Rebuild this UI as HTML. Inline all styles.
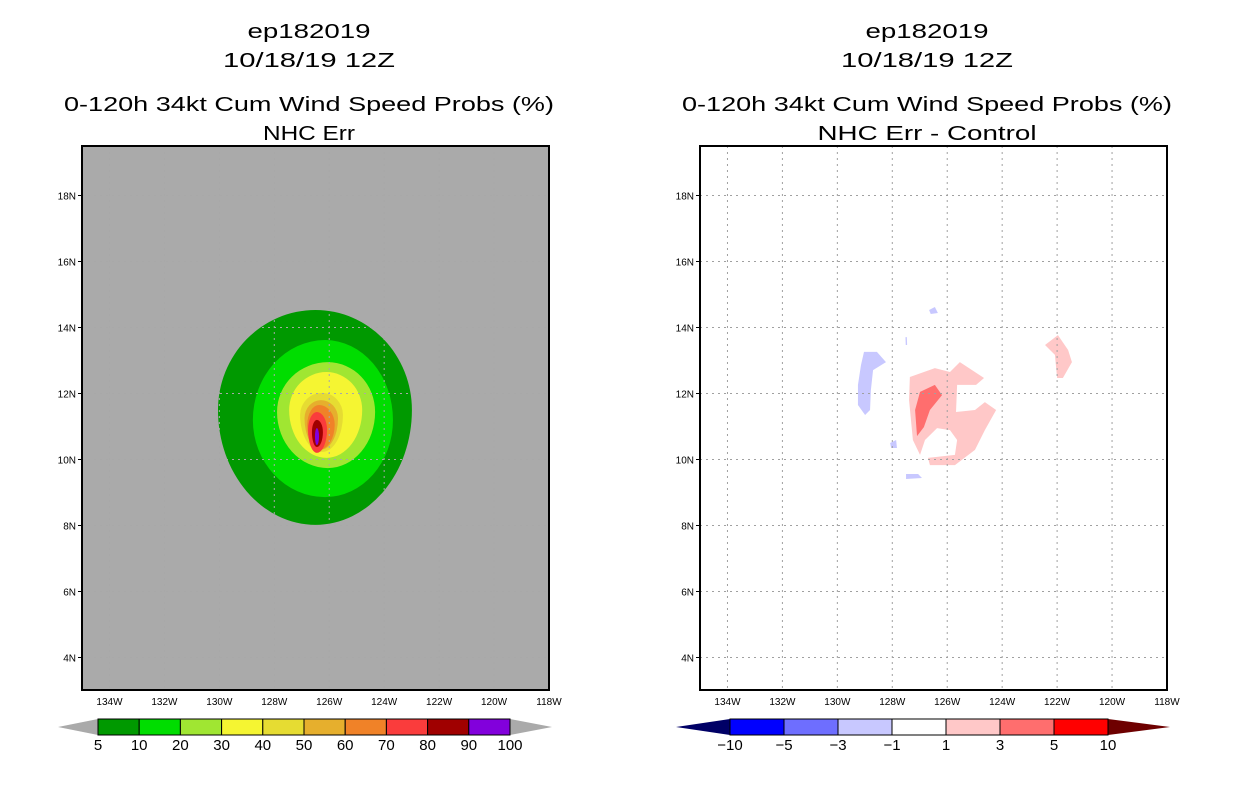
<!DOCTYPE html>
<html><head><meta charset="utf-8"><style>
html,body{margin:0;padding:0;background:#fff;}
svg text{font-family:"Liberation Sans",sans-serif;}
</style></head><body>
<svg id="chart" xmlns="http://www.w3.org/2000/svg" width="1236" height="800" viewBox="0 0 1236 800">
<rect width="1236" height="800" fill="#fff"/>
<g id="titles"></g>
<g id="left"></g>
<g id="right"></g>
</svg>
<script>
// ---- data ----
const lonTicks = [134,132,130,128,126,124,122,120,118];
const latTicks = [4,6,8,10,12,14,16,18];
const probLevels = [5,10,20,30,40,50,60,70,80,90];
const probColors = ["#009900","#00dd00","#a0e632","#f5f532","#e6dc32","#e6af2d","#f08228","#fa3c3c","#a00000","#8200dc"];
const probTop    = [14.53,13.62,12.95,12.65,12.02,11.8,11.65,11.44,11.2,10.95];
const probBottom = [8.02,8.86,9.74,10.05,10.23,10.3,10.3,10.2,10.38,10.44];
const probWest   = [130.05,128.78,127.9,127.46,127.06,126.9,126.8,126.77,126.63,126.52];
const probEast   = [122.99,123.68,124.33,124.8,125.5,125.68,125.8,126.08,126.23,126.37];
const probMid    = [11.5,11.2,11.44,11.5,11.35,11.25,11.05,10.9,10.83,10.7];
const probCx     = [126.5,126.15,126.05,126.1,126.26,126.3,126.37,126.45,126.45,126.45];
const diffLabels = ["-10","-5","-3","-1","1","3","5","10"];
const diffColors = ["#0000ff","#6e6eff","#c8c8ff","#ffffff","#ffc8c8","#ff6e6e","#ff0000"];
const diffPinkBig = [[127.36,12.5],[126.45,12.77],[125.9,12.65],[125.54,12.95],[124.66,12.47],[124.95,12.26],[125.64,12.26],[125.68,11.44],[124.99,11.5],[124.63,11.74],[124.22,11.5],[124.63,10.89],[124.99,10.29],[125.72,9.83],[126.63,9.83],[126.7,10.05],[125.72,10.14],[125.64,10.59],[125.9,10.89],[126.37,10.95],[126.81,10.59],[126.99,10.14],[127.25,10.59],[127.39,11.8]];
const diffRed = [[126.99,12.05],[126.45,12.26],[126.19,11.95],[126.63,11.5],[126.85,10.98],[127.1,10.71],[127.17,11.5]];
const diffPinkEast = [[122.44,13.47],[121.97,13.77],[121.6,13.32],[121.46,12.95],[121.79,12.47],[122.0,12.47],[122.08,13.17]];
const diffBlueBig = [[129.03,13.26],[128.56,13.26],[128.23,12.95],[128.7,12.71],[128.78,12.1],[128.81,11.5],[128.99,11.35],[129.25,11.65],[129.25,12.26],[129.14,12.86]];
const diffBlue1 = [[126.66,14.53],[126.45,14.62],[126.34,14.44],[126.6,14.41]];
const diffBlue2 = [[127.52,13.71],[127.47,13.71],[127.46,13.47],[127.51,13.47]];
const diffBlue3 = [[128.08,10.5],[127.86,10.59],[127.83,10.35],[128.04,10.35]];
const diffBlue4 = [[127.5,9.56],[127.06,9.56],[126.92,9.44],[127.5,9.41]];

const NS="http://www.w3.org/2000/svg";
function el(tag,attrs,parent){const e=document.createElementNS(NS,tag);for(const k in attrs)e.setAttribute(k,attrs[k]);parent.appendChild(e);return e;}
const PX=27.47, PY=33, TOP=146, BOT=690, W=467;
function xS(x0,lonW){return x0+(135-lonW)*PX;}
function yS(lat){return TOP+(19.5-lat)*PY;}
function txt(parent,x,y,s,size,anchor,len){const a={x:x,y:y,'font-size':size,'text-anchor':anchor||'middle',fill:'#000'};
  if(len){a.textLength=len;a.lengthAdjust='spacingAndGlyphs';}
  const t=el('text',a,parent);t.textContent=s;return t;}

function titles(cx,l4,l4len){
  const g=document.getElementById('titles');
  let t=txt(g,cx,38,"ep182019",20,'middle',123);  
  t=txt(g,cx,67,"10/18/19 12Z",20,'middle',172);  
  t=txt(g,cx,111,"0-120h 34kt Cum Wind Speed Probs (%)",20,'middle',490);  
  t=txt(g,cx,140,l4,20,'middle',l4len);  
}
titles(309,"NHC Err",92); titles(927,"NHC Err - Control",219);

function axes(g,x0,bg){
  const r=el('rect',{x:x0,y:TOP,width:W,height:BOT-TOP,fill:bg},g);
   
}
function grid(g,x0,col){
  lonTicks.forEach(l=>{if(l>118){const ln=el('line',{x1:xS(x0,l),x2:xS(x0,l),y1:TOP,y2:BOT,stroke:col,'stroke-dasharray':'2,4','stroke-width':1},g);
     }});
  latTicks.forEach(l=>{const ln=el('line',{x1:x0,x2:x0+W,y1:yS(l),y2:yS(l),stroke:col,'stroke-dasharray':'2,4','stroke-width':1},g);
     });
}
function frame(g,x0){
  const f=el('rect',{x:x0,y:TOP,width:W,height:BOT-TOP,fill:'none',stroke:'#000','stroke-width':2},g);
   
  lonTicks.forEach(l=>{const t=txt(g,xS(x0,l),705,l+"W",10);
     });
  latTicks.forEach(l=>{el('line',{x1:x0-4,x2:x0,y1:yS(l),y2:yS(l),stroke:'#000'},g);
    const t=txt(g,x0-6,yS(l)+4,l+"N",10,'end');
     });
}
function poly(g,x0,pts,fill,name){
  const p=el('polygon',{points:pts.map(p=>xS(x0,p[0])+","+yS(p[1])).join(" "),fill:fill},g);
   
}
const L=document.getElementById('left'), XL=82;
axes(L,XL,'#aaaaaa');
probLevels.forEach((lv,i)=>{
  const cx=xS(XL,probCx[i]), t=yS(probTop[i]), b=yS(probBottom[i]), w=xS(XL,probWest[i]), e=xS(XL,probEast[i]), m=yS(probMid[i]);
  const d=`M${cx},${t} A${e-cx},${m-t} 0 0 1 ${e},${m} A${e-cx},${b-m} 0 0 1 ${cx},${b} A${cx-w},${b-m} 0 0 1 ${w},${m} A${cx-w},${m-t} 0 0 1 ${cx},${t}Z`;
  const p=el('path',{d:d,fill:probColors[i]},L);
   
});
grid(L,XL,'#a8a8a8');
frame(L,XL);
const R=document.getElementById('right'), XR=700;
axes(R,XR,'#ffffff');
poly(R,XR,diffPinkBig,'#ffc8c8','diff-pos-1-3');
poly(R,XR,diffRed,'#ff6e6e','diff-pos-3-5');
poly(R,XR,diffPinkEast,'#ffc8c8','diff-pos-east');
poly(R,XR,diffBlueBig,'#c8c8ff','diff-neg-west');
poly(R,XR,diffBlue1,'#c8c8ff','diff-neg-north');
poly(R,XR,diffBlue2,'#c8c8ff','diff-neg-sliver');
poly(R,XR,diffBlue3,'#c8c8ff','diff-neg-small');
poly(R,XR,diffBlue4,'#c8c8ff','diff-neg-south');
grid(R,XR,'#a0a0a0');
frame(R,XR);

function colorbar(x0,x1,tipL,tipR,colors,labels,triL,triR,name){
  const g=el('g',{},document.getElementById('chart'));
   
  const y0=719,y1=735,n=colors.length,bw=(x1-x0)/n;
  el('polygon',{points:`${tipL},727 ${x0},${y0} ${x0},${y1}`,fill:triL},g);
  el('polygon',{points:`${tipR},727 ${x1},${y0} ${x1},${y1}`,fill:triR},g);
  colors.forEach((c,i)=>{const r=el('rect',{x:x0+i*bw,y:y0,width:bw,height:y1-y0,fill:c,stroke:'#000','stroke-width':1},g);
     });
  labels.forEach((s,i)=>{const t=txt(g,x0+i*bw,750,s.replace('-','\u2212'),15);
     });
}
colorbar(98,510,58,552,probColors,probLevels.concat([100]).map(String),'#aaaaaa','#aaaaaa','prob-colorbar');
colorbar(730,1108,676,1170,diffColors,diffLabels,'#000066','#6e0000','diff-colorbar');
</script>
</body></html>
